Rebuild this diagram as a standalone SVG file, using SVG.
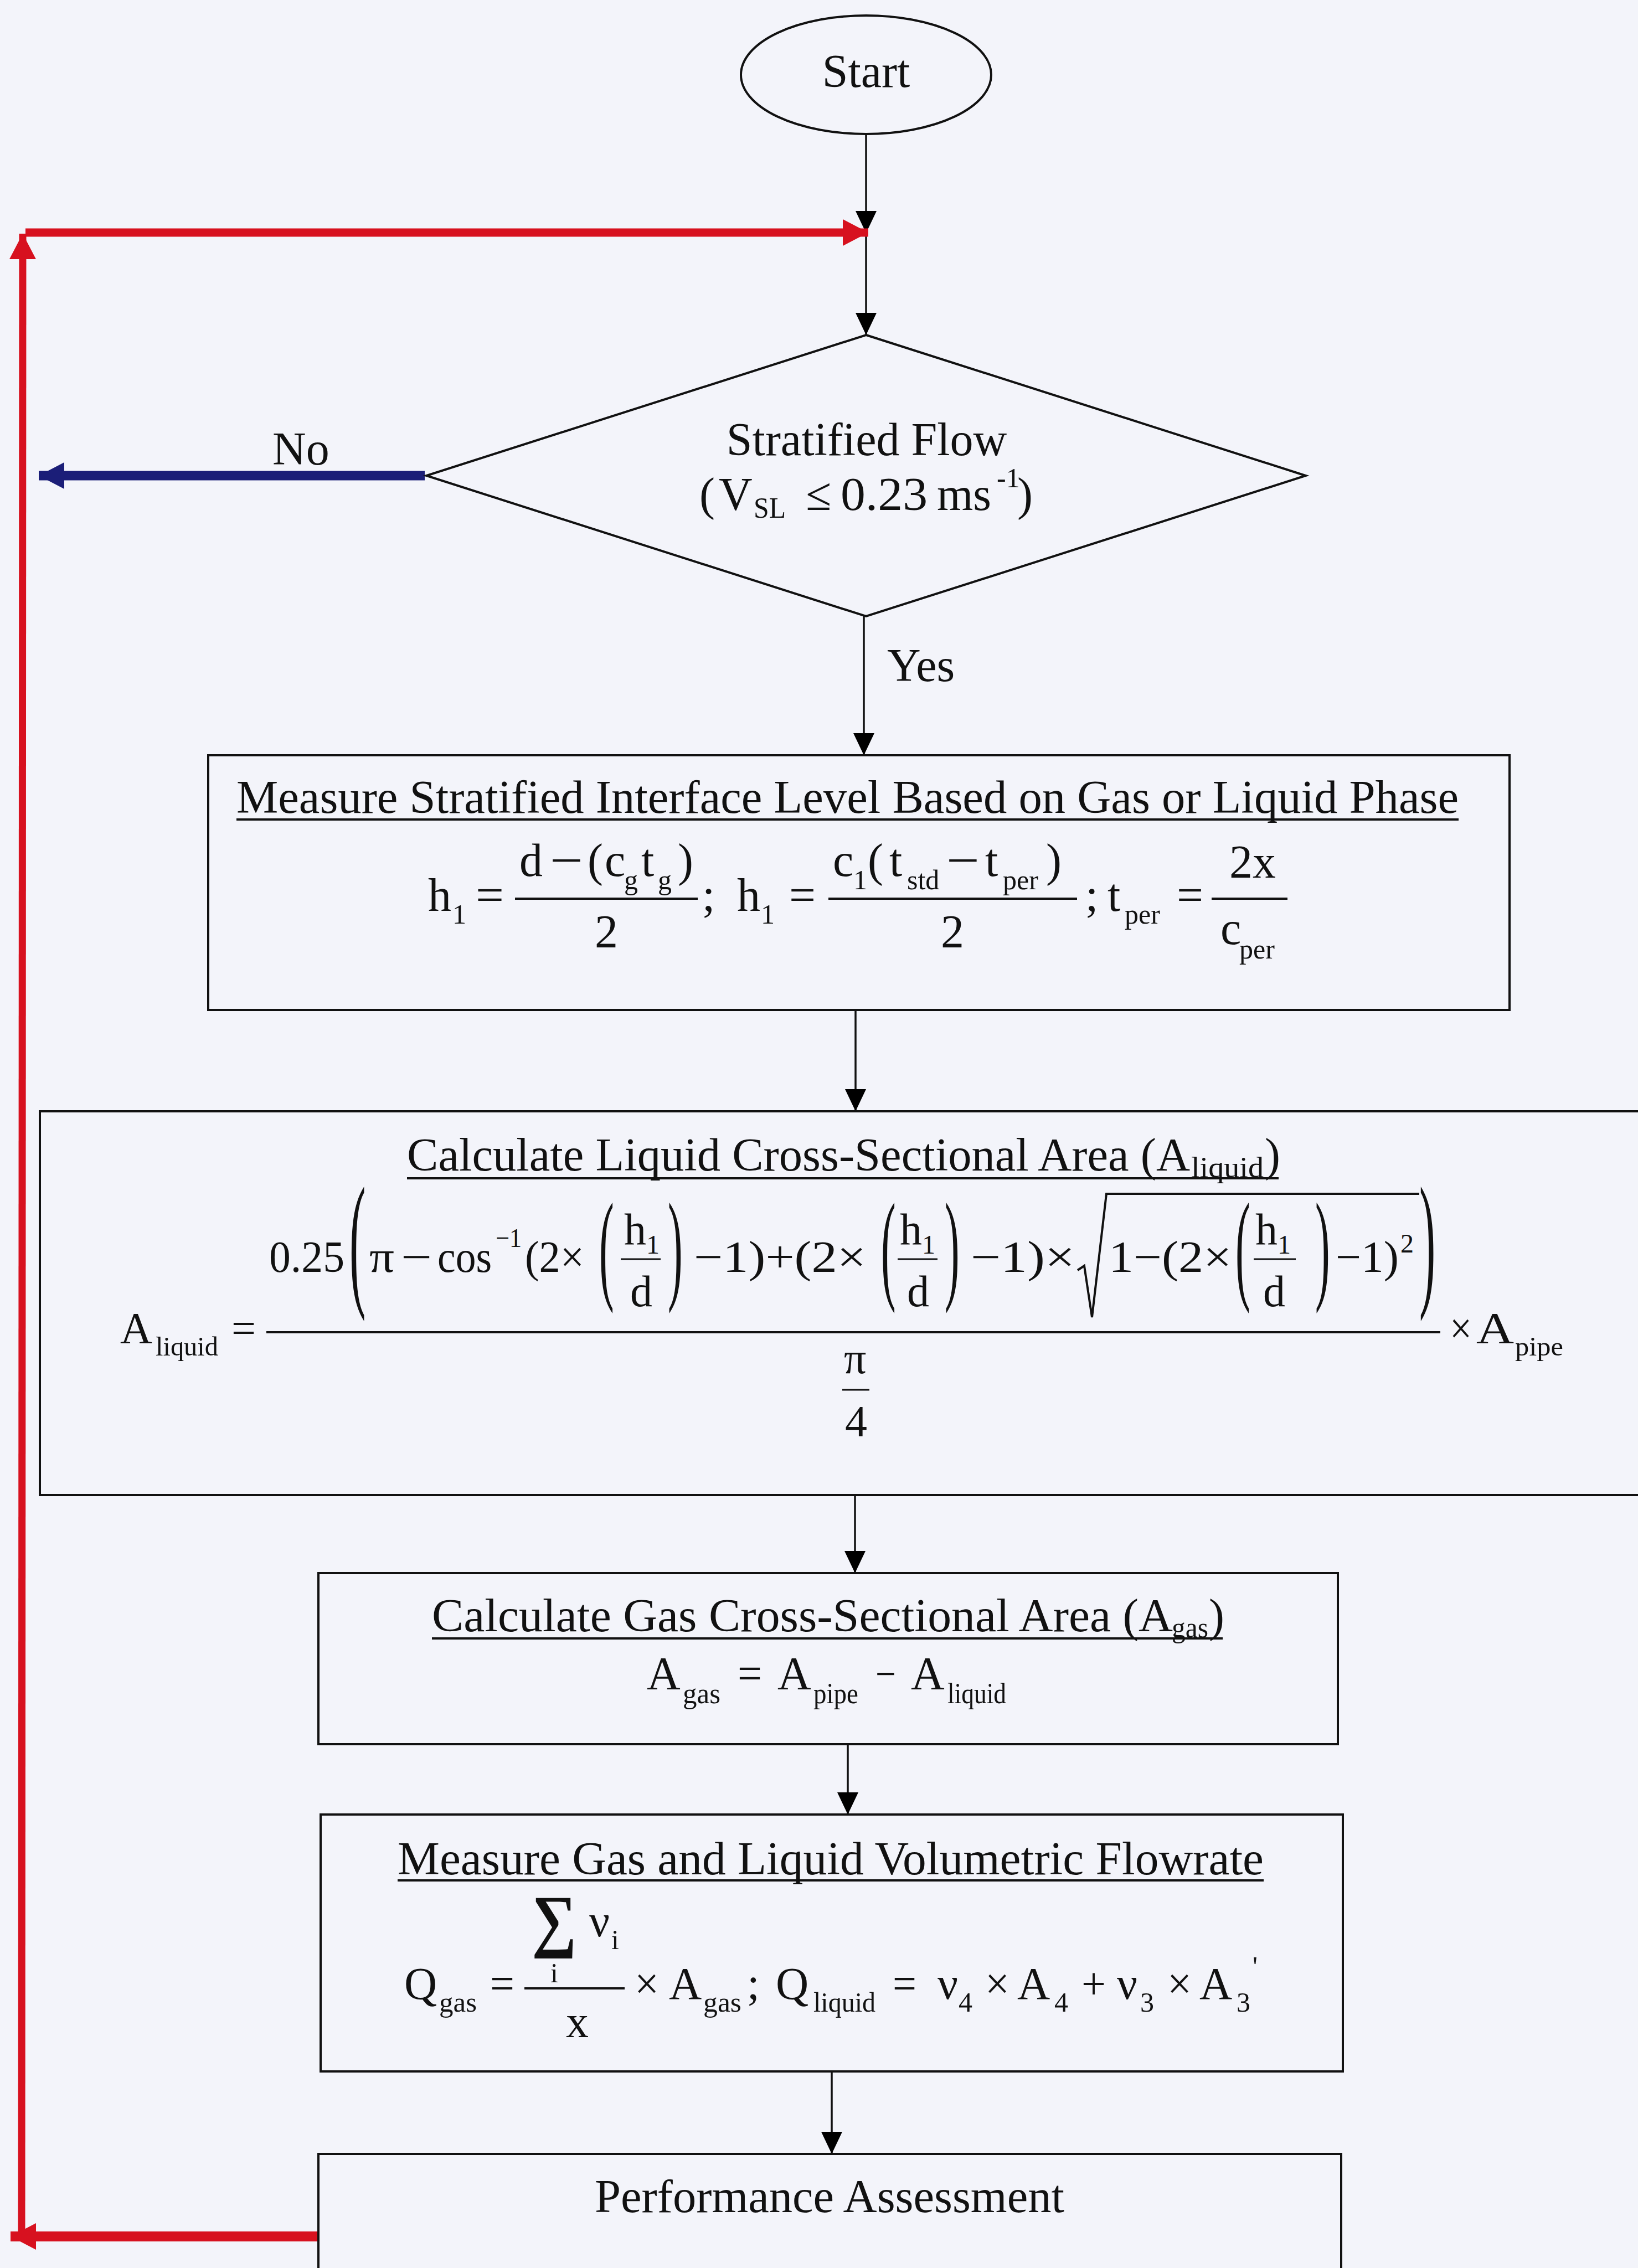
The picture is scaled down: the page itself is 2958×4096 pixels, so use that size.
<svg xmlns="http://www.w3.org/2000/svg" width="2958" height="4096" viewBox="0 0 2958 4096">
<style>
.t{font-family:"Liberation Serif","Times New Roman",serif;fill:#111}
.f84{font-size:84px}
.f82{font-size:82px}
.f80{font-size:80px}
.s52{font-size:52px}
.s50{font-size:50px}
.s48{font-size:48px}
.box{fill:none;stroke:#111;stroke-width:4}
.ln{stroke:#111;stroke-width:3.5;fill:none}
.bar{stroke:#111;stroke-width:4}
.bar3{stroke:#111;stroke-width:3}
.ul{stroke:#111;stroke-width:4}
</style>
<defs>
<marker id="ah" markerUnits="userSpaceOnUse" markerWidth="40" markerHeight="38" refX="40" refY="19" orient="auto"><path d="M0,0 L40,19 L0,38 z" fill="#000"/></marker>
<marker id="ar" markerUnits="userSpaceOnUse" markerWidth="46" markerHeight="48" refX="46" refY="24" orient="auto"><path d="M0,0 L46,24 L0,48 z" fill="#d7111f"/></marker>
<marker id="ab" markerUnits="userSpaceOnUse" markerWidth="46" markerHeight="48" refX="46" refY="24" orient="auto"><path d="M0,0 L46,24 L0,48 z" fill="#1b1e78"/></marker>
</defs>
<rect x="0" y="0" width="2958" height="4096" fill="#f3f4fa"/>

<g id="connectors">
<line class="ln" x1="1564" y1="242" x2="1564" y2="421" marker-end="url(#ah)"/>
<line class="ln" x1="1564" y1="421" x2="1564" y2="605" marker-end="url(#ah)"/>
<line class="ln" x1="1560" y1="1113" x2="1560" y2="1364" marker-end="url(#ah)"/>
<line class="ln" x1="1545" y1="1824" x2="1545" y2="2007" marker-end="url(#ah)"/>
<line class="ln" x1="1544" y1="2700" x2="1544" y2="2841" marker-end="url(#ah)"/>
<line class="ln" x1="1531" y1="3150" x2="1531" y2="3277" marker-end="url(#ah)"/>
<line class="ln" x1="1502" y1="3741" x2="1502" y2="3890" marker-end="url(#ah)"/>
<line x1="767" y1="859" x2="70" y2="859" stroke="#1b1e78" stroke-width="17" marker-end="url(#ab)"/>
<line x1="577" y1="4039" x2="19" y2="4039" stroke="#d7111f" stroke-width="18" marker-end="url(#ar)"/>
<line x1="39" y1="4046" x2="41" y2="422" stroke="#d7111f" stroke-width="13" marker-end="url(#ar)"/>
<line x1="46" y1="420" x2="1568" y2="420" stroke="#d7111f" stroke-width="15" marker-end="url(#ar)"/>
<text class="t f84" x="492" y="839">No</text>
<text class="t f84" x="1602" y="1230">Yes</text>
</g>

<g id="start">
<ellipse cx="1564" cy="135" rx="226" ry="107" class="box"/>
<text class="t f84" x="1564" y="157" text-anchor="middle">Start</text>
</g>

<g id="decision">
<polygon points="1564,605 2358,859 1564,1113 770,859" class="box"/>
<text class="t f84" x="1565" y="822" text-anchor="middle">Stratified Flow</text>
<text class="t f84" x="1263" y="921">(</text>
<text class="t f84" x="1298" y="921">V</text>
<text class="t s52" x="1361" y="935" textLength="58" lengthAdjust="spacingAndGlyphs">SL</text>
<text class="t f84" x="1455" y="921">≤</text>
<text class="t f84" x="1518" y="921" textLength="157" lengthAdjust="spacingAndGlyphs">0.23</text>
<text class="t f84" x="1692" y="921">ms</text>
<text class="t s50" x="1800" y="880">-1</text>
<text class="t f84" x="1837" y="921">)</text>
</g>

<g id="box1">
<rect x="376" y="1364" width="2350" height="460" class="box"/>
<text class="t f84" x="427" y="1468" textLength="2207" lengthAdjust="spacingAndGlyphs">Measure Stratified Interface Level Based on Gas or Liquid Phase</text>
<line class="ul" x1="427" y1="1480" x2="2634" y2="1480"/>
<text class="t f84" x="773" y="1645">h</text>
<text class="t s50" x="817" y="1668">1</text>
<text class="t f84" x="859" y="1645" textLength="51" lengthAdjust="spacingAndGlyphs">=</text>
<line class="bar" x1="930" y1="1623" x2="1260" y2="1623"/>
<text class="t f84" x="938" y="1582">d</text>
<text class="t f84" x="993" y="1582" textLength="60" lengthAdjust="spacingAndGlyphs">−</text>
<text class="t f84" x="1061" y="1582">(</text>
<text class="t f84" x="1092" y="1582">c</text>
<text class="t s50" x="1127" y="1606">g</text>
<text class="t f84" x="1158" y="1582">t</text>
<text class="t s50" x="1188" y="1606">g</text>
<text class="t f84" x="1224" y="1582">)</text>
<text class="t f84" x="1095" y="1711" text-anchor="middle">2</text>
<text class="t f84" x="1268" y="1645">;</text>
<text class="t f84" x="1331" y="1645">h</text>
<text class="t s50" x="1374" y="1668">1</text>
<text class="t f84" x="1425" y="1645" textLength="48" lengthAdjust="spacingAndGlyphs">=</text>
<line class="bar" x1="1496" y1="1623" x2="1945" y2="1623"/>
<text class="t f84" x="1504" y="1582">c</text>
<text class="t s50" x="1541" y="1606">1</text>
<text class="t f84" x="1567" y="1582">(</text>
<text class="t f84" x="1606" y="1582">t</text>
<text class="t s50" x="1638" y="1606">std</text>
<text class="t f84" x="1709" y="1582" textLength="60" lengthAdjust="spacingAndGlyphs">−</text>
<text class="t f84" x="1779" y="1582">t</text>
<text class="t s50" x="1811" y="1606">per</text>
<text class="t f84" x="1889" y="1582">)</text>
<text class="t f84" x="1720" y="1711" text-anchor="middle">2</text>
<text class="t f84" x="1960" y="1645">;</text>
<text class="t f84" x="2000" y="1645">t</text>
<text class="t s50" x="2031" y="1668">per</text>
<text class="t f84" x="2125" y="1645" textLength="48" lengthAdjust="spacingAndGlyphs">=</text>
<line class="bar" x1="2188" y1="1623" x2="2325" y2="1623"/>
<text class="t f84" x="2262" y="1585" text-anchor="middle">2x</text>
<text class="t f84" x="2204" y="1705">c</text>
<text class="t s50" x="2238" y="1731">per</text>
</g>

<g id="box2">
<rect x="72" y="2007" width="2900" height="693" class="box"/>
<text class="t f84" x="735" y="2114" textLength="1414" lengthAdjust="spacingAndGlyphs">Calculate Liquid Cross-Sectional Area (A</text>
<text class="t s52" x="2151" y="2126" textLength="131" lengthAdjust="spacingAndGlyphs">liquid</text>
<text class="t f84" x="2284" y="2114">)</text>
<line class="ul" x1="735" y1="2128" x2="2309" y2="2128"/>
<text class="t f80" x="217" y="2426">A</text>
<text class="t s48" x="281" y="2448" textLength="113" lengthAdjust="spacingAndGlyphs">liquid</text>
<text class="t f80" x="418" y="2426" textLength="44" lengthAdjust="spacingAndGlyphs">=</text>
<line class="bar" x1="481" y1="2406" x2="2601" y2="2406"/>
<text class="t f80" x="486" y="2297" textLength="136" lengthAdjust="spacingAndGlyphs">0.25</text>
<text class="t f80" transform="translate(631,2329) scale(1.1,3.35)" x="0" y="0">(</text>
<text class="t f80" x="667" y="2297" textLength="45" lengthAdjust="spacingAndGlyphs">π</text>
<text class="t f80" x="724" y="2297" textLength="56" lengthAdjust="spacingAndGlyphs">−</text>
<text class="t f80" x="790" y="2297" textLength="98" lengthAdjust="spacingAndGlyphs">cos</text>
<text class="t s48" x="895" y="2252" textLength="47" lengthAdjust="spacingAndGlyphs">−1</text>
<text class="t f80" x="948" y="2297" textLength="107" lengthAdjust="spacingAndGlyphs">(2×</text>
<text class="t f80" transform="translate(1082,2325) scale(1,2.75)" x="0" y="0">(</text>
<text class="t f80" x="1127" y="2247">h</text>
<text class="t s48" x="1167" y="2264">1</text>
<line class="bar3" x1="1121" y1="2274" x2="1193" y2="2274"/>
<text class="t f80" x="1138" y="2359">d</text>
<text class="t f80" transform="translate(1206,2325) scale(1,2.75)" x="0" y="0">)</text>
<text class="t f80" x="1253" y="2297" textLength="311" lengthAdjust="spacingAndGlyphs">−1)+(2×</text>
<text class="t f80" transform="translate(1591,2325) scale(1,2.75)" x="0" y="0">(</text>
<text class="t f80" x="1625" y="2247">h</text>
<text class="t s48" x="1665" y="2264">1</text>
<line class="bar3" x1="1621" y1="2274" x2="1693" y2="2274"/>
<text class="t f80" x="1638" y="2359">d</text>
<text class="t f80" transform="translate(1706,2325) scale(1,2.75)" x="0" y="0">)</text>
<text class="t f80" x="1753" y="2297" textLength="188" lengthAdjust="spacingAndGlyphs">−1)×</text>
<polyline points="1946,2294 1958,2286 1972,2379 1998,2156 2563,2156" fill="none" stroke="#111" stroke-width="4"/>
<text class="t f80" x="2002" y="2297" textLength="222" lengthAdjust="spacingAndGlyphs">1−(2×</text>
<text class="t f80" transform="translate(2231,2325) scale(1,2.75)" x="0" y="0">(</text>
<text class="t f80" x="2267" y="2247">h</text>
<text class="t s48" x="2307" y="2264">1</text>
<line class="bar3" x1="2264" y1="2274" x2="2340" y2="2274"/>
<text class="t f80" x="2281" y="2359">d</text>
<text class="t f80" transform="translate(2375,2325) scale(1,2.75)" x="0" y="0">)</text>
<text class="t f80" x="2412" y="2297" textLength="114" lengthAdjust="spacingAndGlyphs">−1)</text>
<text class="t s48" x="2529" y="2262">2</text>
<text class="t f80" transform="translate(2563,2329) scale(1.1,3.35)" x="0" y="0">)</text>
<text class="t f80" x="2618" y="2426" textLength="40" lengthAdjust="spacingAndGlyphs">×</text>
<text class="t f80" x="2666" y="2426" textLength="68" lengthAdjust="spacingAndGlyphs">A</text>
<text class="t s48" x="2736" y="2448" textLength="87" lengthAdjust="spacingAndGlyphs">pipe</text>
<text class="t f80" x="1524" y="2480">π</text>
<line class="bar3" x1="1521" y1="2510" x2="1570" y2="2510"/>
<text class="t f80" x="1526" y="2594">4</text>
</g>

<g id="box3">
<rect x="575" y="2841" width="1841" height="309" class="box"/>
<text class="t f84" x="780" y="2946" textLength="1338" lengthAdjust="spacingAndGlyphs">Calculate Gas Cross-Sectional Area (A</text>
<text class="t s52" x="2116" y="2957" textLength="66" lengthAdjust="spacingAndGlyphs">gas</text>
<text class="t f84" x="2183" y="2946">)</text>
<line class="ul" x1="780" y1="2959" x2="2208" y2="2959"/>
<text class="t f84" x="1168" y="3051">A</text>
<text class="t s52" x="1233" y="3076" textLength="68" lengthAdjust="spacingAndGlyphs">gas</text>
<text class="t f84" x="1332" y="3051" textLength="44" lengthAdjust="spacingAndGlyphs">=</text>
<text class="t f84" x="1404" y="3051">A</text>
<text class="t s52" x="1469" y="3076" textLength="81" lengthAdjust="spacingAndGlyphs">pipe</text>
<text class="t f84" x="1581" y="3051" textLength="37" lengthAdjust="spacingAndGlyphs">−</text>
<text class="t f84" x="1645" y="3051">A</text>
<text class="t s52" x="1711" y="3076" textLength="106" lengthAdjust="spacingAndGlyphs">liquid</text>
</g>

<g id="box4">
<rect x="579" y="3277" width="1846" height="464" class="box"/>
<text class="t f84" x="718" y="3385" textLength="1564" lengthAdjust="spacingAndGlyphs">Measure Gas and Liquid Volumetric Flowrate</text>
<line class="ul" x1="718" y1="3396" x2="2282" y2="3396"/>
<text class="t f82" x="730" y="3610">Q</text>
<text class="t s50" x="793" y="3633" textLength="68" lengthAdjust="spacingAndGlyphs">gas</text>
<text class="t f82" x="885" y="3610" textLength="44" lengthAdjust="spacingAndGlyphs">=</text>
<line class="bar" x1="947" y1="3591" x2="1128" y2="3591"/>
<text class="t" style="font-size:126px;font-weight:bold" x="960" y="3510" textLength="81" lengthAdjust="spacingAndGlyphs">∑</text>
<text class="t f82" x="1064" y="3497">ν</text>
<text class="t s50" x="1104" y="3520">i</text>
<text class="t s50" x="994" y="3580">i</text>
<text class="t f82" x="1022" y="3679">x</text>
<text class="t f82" x="1146" y="3610" textLength="44" lengthAdjust="spacingAndGlyphs">×</text>
<text class="t f82" x="1208" y="3610">A</text>
<text class="t s50" x="1270" y="3633" textLength="69" lengthAdjust="spacingAndGlyphs">gas</text>
<text class="t f82" x="1349" y="3610">;</text>
<text class="t f82" x="1401" y="3610">Q</text>
<text class="t s50" x="1469" y="3633" textLength="112" lengthAdjust="spacingAndGlyphs">liquid</text>
<text class="t f82" x="1612" y="3610" textLength="43" lengthAdjust="spacingAndGlyphs">=</text>
<text class="t f82" x="1693" y="3610">ν</text>
<text class="t s50" x="1731" y="3633">4</text>
<text class="t f82" x="1779" y="3610" textLength="44" lengthAdjust="spacingAndGlyphs">×</text>
<text class="t f82" x="1837" y="3610">A</text>
<text class="t s50" x="1904" y="3633">4</text>
<text class="t f82" x="1953" y="3610" textLength="44" lengthAdjust="spacingAndGlyphs">+</text>
<text class="t f82" x="2017" y="3610">ν</text>
<text class="t s50" x="2059" y="3633">3</text>
<text class="t f82" x="2108" y="3610" textLength="44" lengthAdjust="spacingAndGlyphs">×</text>
<text class="t f82" x="2166" y="3610">A</text>
<text class="t s50" x="2233" y="3633">3</text>
<text class="t s50" x="2262" y="3568">'</text>
</g>

<g id="box5">
<rect x="575" y="3890" width="1847" height="260" class="box"/>
<text class="t f84" x="1074" y="3995" textLength="848" lengthAdjust="spacingAndGlyphs">Performance Assessment</text>
</g>
</svg>
